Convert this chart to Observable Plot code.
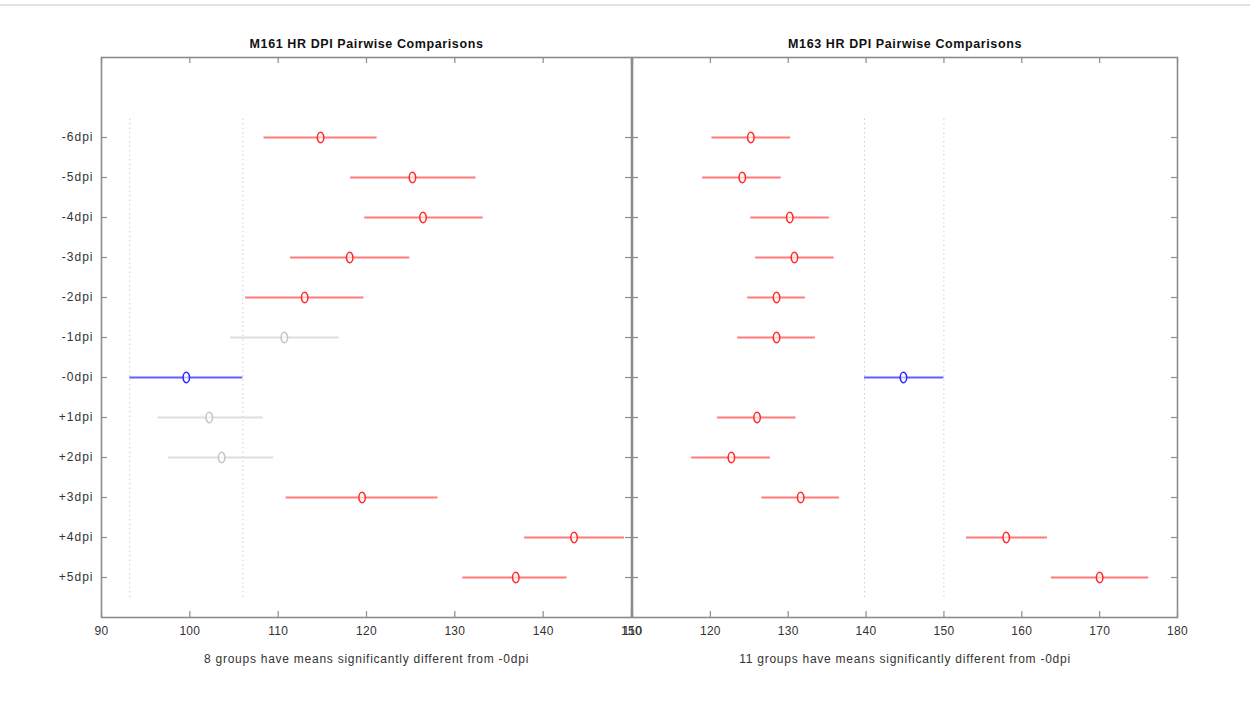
<!DOCTYPE html>
<html>
<head>
<meta charset="utf-8">
<script src="https://cdn.jsdelivr.net/npm/d3@7"></script>
<script src="https://cdn.jsdelivr.net/npm/@observablehq/plot@0.6"></script>
<style>
  html, body { margin: 0; padding: 0; background: #fff; }
  #wrap { position: relative; width: 1250px; height: 707px; overflow: hidden; background: #fff; }
  #topline { position: absolute; left: 0; top: 4px; width: 1250px; height: 2px; background: #e2e2e2; }
  #left, #right { position: absolute; top: 0; }
  #left { left: 0; }
  #right { left: 600px; }
  svg { overflow: visible; }
  g[aria-label="y-axis tick label"] text { letter-spacing: 1px; }
  g[aria-label="x-axis tick label"] text { letter-spacing: 0.3px; }
  text.title-text { letter-spacing: 0.6px; }
  text.caption-text { letter-spacing: 0.75px; }
</style>
</head>
<body>
<div id="wrap"><div id="topline"></div><div id="left"></div><div id="right"></div></div>
<script>
// ---- data (top to bottom as shown) ----
const categories = ["-6dpi","-5dpi","-4dpi","-3dpi","-2dpi","-1dpi","-0dpi","+1dpi","+2dpi","+3dpi","+4dpi","+5dpi"];

const m161Title = "M161 HR DPI Pairwise Comparisons";
const m161Caption = "8 groups have means significantly different from -0dpi";
const m161Mean  = [114.8, 125.2, 126.4, 118.1, 113.0, 110.7,  99.6, 102.2, 103.6, 119.5, 143.5, 136.9];
const m161Lower = [108.4, 118.2, 119.8, 111.4, 106.3, 104.6,  93.2,  96.4,  97.6, 110.9, 137.9, 130.9];
const m161Upper = [121.2, 132.4, 133.2, 124.9, 119.7, 116.9, 106.0, 108.3, 109.5, 128.1, 149.2, 142.7];
const m161Status = ["sig","sig","sig","sig","sig","ns","ref","ns","ns","sig","sig","sig"];
const m161XTicks = [90, 100, 110, 120, 130, 140, 150];

const m163Title = "M163 HR DPI Pairwise Comparisons";
const m163Caption = "11 groups have means significantly different from -0dpi";
const m163Mean  = [125.2, 124.1, 130.2, 130.8, 128.5, 128.5, 144.8, 126.0, 122.7, 131.6, 158.0, 170.0];
const m163Lower = [120.2, 119.0, 125.2, 125.8, 124.8, 123.5, 139.8, 120.9, 117.6, 126.6, 152.9, 163.8];
const m163Upper = [130.3, 129.1, 135.3, 135.9, 132.2, 133.5, 150.0, 131.0, 127.7, 136.6, 163.3, 176.3];
const m163Status = ["sig","sig","sig","sig","sig","sig","ref","sig","sig","sig","sig","sig"];
const m163XTicks = [110, 120, 130, 140, 150, 160, 170, 180];

const statusDomain = ["sig", "ns", "ref"];
const statusColors = ["#ff7a7a", "#dedede", "#6060ff"];
const markerColors = ["#ff2a2a", "#c4c4c4", "#2a2aff"];

// ---- helpers ----
const nCat = categories.length;
const yTop = nCat + 2;               // y domain [0, 14]
const rowIndex = i => nCat - i;      // -6dpi -> 12 ... +5dpi -> 1
const yTicks = categories.map((c, i) => rowIndex(i));

// tall narrow "o" marker
const ellipse = {
  draw(ctx, size) {
    const r = Math.sqrt(size / Math.PI);
    const rx = r * 0.62, ry = r, k = 0.5523;
    ctx.moveTo(rx, 0);
    ctx.bezierCurveTo(rx, ry * k, rx * k, ry, 0, ry);
    ctx.bezierCurveTo(-rx * k, ry, -rx, ry * k, -rx, 0);
    ctx.bezierCurveTo(-rx, -ry * k, -rx * k, -ry, 0, -ry);
    ctx.bezierCurveTo(rx * k, -ry, rx, -ry * k, rx, 0);
    ctx.closePath();
  }
};

function panel({title, caption, mean, lower, upper, status, xTicks, showY, width, marginLeft, marginRight}) {
  const rows = categories.map((c, i) => ({cat: c, y: rowIndex(i), mean: mean[i], lo: lower[i], hi: upper[i], status: status[i]}));
  const ref = rows.find(d => d.status === "ref");
  const xmin = xTicks[0], xmax = xTicks[xTicks.length - 1];
  const tickLenX = (xmax - xmin) * 6 / (width - marginLeft - marginRight);
  const tickLenY = yTop * 6 / 560;
  const axisColor = "#8c8c8c";
  return Plot.plot({
    width, height: 707,
    marginLeft, marginRight, marginTop: 57, marginBottom: 90,
    style: {background: "transparent", fontFamily: "'Liberation Sans', Arial, sans-serif", fontSize: "12px", color: "#222", overflow: "visible"},
    x: {domain: [xmin, xmax]},
    y: {domain: [0, yTop]},
    color: {domain: statusDomain, range: statusColors},
    marks: [
      // reference interval dotted lines
      Plot.ruleX([ref.lo, ref.hi], {x: d => d, y1: 0.5, y2: nCat + 0.5, stroke: "#cfcfcf", strokeDasharray: "1.5,3", strokeWidth: 1}),
      // frame
      Plot.frame({stroke: axisColor, strokeWidth: 1.6}),
      // inward ticks
      Plot.ruleX(xTicks, {x: d => d, y1: 0, y2: tickLenY, stroke: axisColor, strokeWidth: 1.2}),
      Plot.ruleX(xTicks, {x: d => d, y1: yTop - tickLenY, y2: yTop, stroke: axisColor, strokeWidth: 1.2}),
      Plot.ruleY(yTicks, {y: d => d, x1: xmin, x2: xmin + tickLenX, stroke: axisColor, strokeWidth: 1.2}),
      Plot.ruleY(yTicks, {y: d => d, x1: xmax - tickLenX, x2: xmax, stroke: axisColor, strokeWidth: 1.2}),
      Plot.axisX({ticks: xTicks, tickSize: 0, tickPadding: 9, tickFormat: d => String(d), fontSize: 12, label: null, fill: "#333"}),
      showY
        ? Plot.axisY({ticks: yTicks, tickSize: 0, tickPadding: 8, tickFormat: v => categories[nCat - v], fontSize: 12, label: null, fill: "#333"})
        : Plot.axisY({ticks: [], label: null}),
      // intervals
      Plot.ruleY(rows, {y: "y", x1: "lo", x2: "hi", stroke: "status", strokeWidth: 1.8}),
      // means
      Plot.dot(rows, {x: "mean", y: "y", symbol: ellipse, r: 5.2, fill: "white", fillOpacity: 0.6,
        stroke: d => markerColors[statusDomain.indexOf(d.status)], strokeWidth: 1.5}),
      // title and caption
      Plot.text([title], {text: d => d, frameAnchor: "top", dy: -14, lineAnchor: "middle", fontWeight: "bold", fontSize: 12.5, fill: "#111", className: "title-text"}),
      Plot.text([caption], {text: d => d, frameAnchor: "bottom", dy: 42, lineAnchor: "middle", fontSize: 12, fill: "#333", className: "caption-text"})
    ]
  });
}

function finish(svg) {
  // move class names from mark groups onto their text elements
  d3.select(svg).selectAll("g.title-text text").classed("title-text", true);
  d3.select(svg).selectAll("g.caption-text text").classed("caption-text", true);
  return svg;
}

document.getElementById("left").append(finish(panel({
  title: m161Title, caption: m161Caption, mean: m161Mean, lower: m161Lower, upper: m161Upper,
  status: m161Status, xTicks: m161XTicks, showY: true, width: 640, marginLeft: 101, marginRight: 9
})));
document.getElementById("right").append(finish(panel({
  title: m163Title, caption: m163Caption, mean: m163Mean, lower: m163Lower, upper: m163Upper,
  status: m163Status, xTicks: m163XTicks, showY: false, width: 650, marginLeft: 32, marginRight: 73
})));
</script>
</body>
</html>
